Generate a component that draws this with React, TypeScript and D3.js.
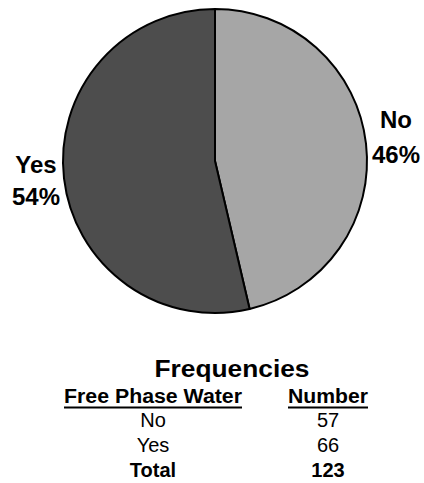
import React from "react";
import * as d3 from "d3";

const categories = ["No", "Yes"];
const counts = [57, 66];
const colors = ["#a6a6a6", "#4d4d4d"];
const tableHeader = ["Free Phase Water", "Number"];
const totalLabel = "Total";

export default function App() {
  const W = 424, H = 483;
  const cx = 215, cy = 161, r = 152;
  const total = d3.sum(counts);
  const pie = d3.pie<number>().sort(null).value((d) => d)(counts);
  const arc = d3.arc<d3.PieArcDatum<number>>().innerRadius(0).outerRadius(r);
  const pct = counts.map((c) => Math.round((c / total) * 100) + "%");
  const font = "Arial, 'Liberation Sans', Helvetica, sans-serif";

  const labelPos = [
    { x: 396, y1: 128, y2: 163 },
    { x: 36, y1: 173, y2: 205 },
  ];

  const col1 = 153, col2 = 328;
  const rowY = [427, 452];

  return (
    <svg width={W} height={H} style={{ position: "absolute", left: 0, top: 0 }} fontFamily={font}>
      <rect width={W} height={H} fill="#fff" />
      <g transform={`translate(${cx},${cy})`}>
        {pie.map((p, i) => (
          <path key={i} d={arc(p) || ""} fill={colors[i]} stroke="#000" strokeWidth={2} strokeLinejoin="round" />
        ))}
      </g>
      {categories.map((c, i) => (
        <g key={c} fontWeight="bold" fontSize={24} textAnchor="middle" fill="#000">
          <text x={labelPos[i].x} y={labelPos[i].y1}>{c}</text>
          <text x={labelPos[i].x} y={labelPos[i].y2}>{pct[i]}</text>
        </g>
      ))}
      <text x={232} y={377} textAnchor="middle" fontWeight="bold" fontSize={23} textLength={155} lengthAdjust="spacingAndGlyphs">Frequencies</text>
      <text x={col1} y={403} textAnchor="middle" fontWeight="bold" fontSize={20} textLength={178} lengthAdjust="spacingAndGlyphs">{tableHeader[0]}</text>
      <line x1={col1 - 89} x2={col1 + 89} y1={407.5} y2={407.5} stroke="#000" strokeWidth={2} />
      <text x={col2} y={403} textAnchor="middle" fontWeight="bold" fontSize={20} textLength={80} lengthAdjust="spacingAndGlyphs">{tableHeader[1]}</text>
      <line x1={col2 - 40} x2={col2 + 40} y1={407.5} y2={407.5} stroke="#000" strokeWidth={2} />
      {categories.map((c, i) => (
        <g key={"row" + c} fontSize={20} textAnchor="middle">
          <text x={col1} y={rowY[i]}>{c}</text>
          <text x={col2} y={rowY[i]}>{counts[i]}</text>
        </g>
      ))}
      <g fontSize={20} fontWeight="bold" textAnchor="middle">
        <text x={col1} y={477}>{totalLabel}</text>
        <text x={col2} y={477}>{total}</text>
      </g>
    </svg>
  );
}
